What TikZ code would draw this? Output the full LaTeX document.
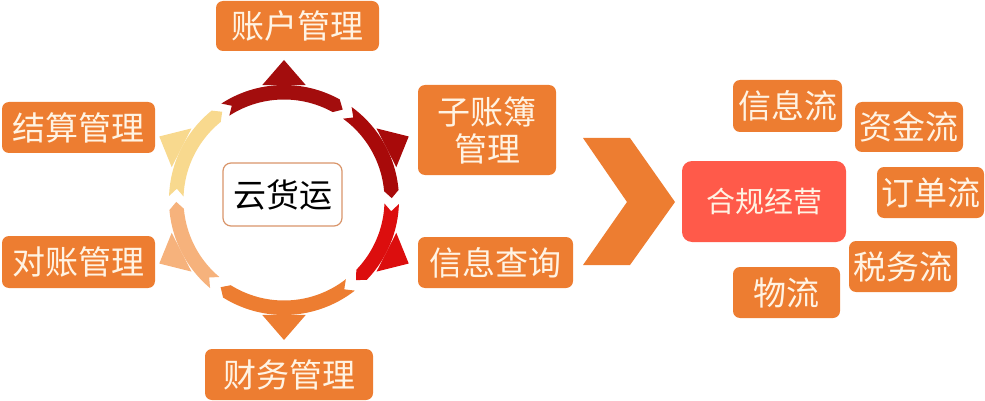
\documentclass[tikz,border=0pt]{standalone}
\usepackage{fontspec}
\newfontfamily\cjk{Noto Sans CJK SC}
\definecolor{boxorange}{HTML}{ED7D31}
\definecolor{boxtext}{HTML}{FFF3E3}
\definecolor{redbox}{HTML}{FF5A4A}
\definecolor{segA}{HTML}{A30D0D}
\definecolor{segB}{HTML}{A80A0A}
\definecolor{segC}{HTML}{DC0E0E}
\definecolor{segD}{HTML}{ED7D31}
\definecolor{segE}{HTML}{F6B27C}
\definecolor{segF}{HTML}{F8D98E}
\definecolor{hubline}{HTML}{D9956A}
\newcommand\ringseg[3]{%
  \pgfmathsetmacro\sa{#1}\pgfmathsetmacro\sb{#2+4}%
  \pgfmathsetmacro\sn{#1-4}%
  \fill[#3] plot[domain=\sa:\sb, samples=30] ({\cx+\ro*cos(\x)},{\cy-\ro*sin(\x)})
    -- ({\cx+\rmid*cos(#2)},{\cy-\rmid*sin(#2)})
    -- plot[domain=\sb:\sa, samples=30] ({\cx+\ri*cos(\x)},{\cy-\ri*sin(\x)})
    -- ({\cx+\rmid*cos(\sn)},{\cy-\rmid*sin(\sn)}) -- cycle;}
\newcommand\ringtri[2]{%
  \fill[#2] ({\cx+117*cos(#1+10.7)},{\cy-117*sin(#1+10.7)})
    -- ({\cx+140*cos(#1)},{\cy-140*sin(#1)})
    -- ({\cx+117*cos(#1-10.7)},{\cy-117*sin(#1-10.7)}) -- cycle;}
\begin{document}
\begin{tikzpicture}[x=1pt,y=-1pt,
  box/.style={fill=boxorange, rounded corners=7pt, inner sep=0pt, text=boxtext,
    font=\cjk\fontsize{33}{37}\selectfont, align=center},
  hub/.style={draw=hubline, line width=1.2pt, fill=white, rounded corners=8pt,
    inner sep=0pt, text=black, font=\cjk\fontsize{33}{37}\selectfont},
  goal/.style={fill=redbox, rounded corners=10pt, inner sep=0pt, text=boxtext,
    font=\cjk\fontsize{29}{34}\selectfont}]
\useasboundingbox (0,0) rectangle (985,401);
\def\cx{284}\def\cy{200}\def\ro{115}\def\ri{100.5}\def\rmid{107.75}
% ring segments (clockwise)
\ringseg{123}{57}{segA}
\ringseg{54}{1}{segB}
\ringseg{-2}{-48}{segC}
\ringseg{-52}{-126}{segD}
\ringseg{-130}{-179}{segE}
\ringseg{178}{125}{segF}
% outward triangles
\ringtri{90}{segA}
\ringtri{27}{segB}
\ringtri{-27}{segC}
\ringtri{-90}{segD}
\ringtri{-153}{segE}
\ringtri{153}{segF}
% hub
\node[hub, minimum width=119pt, minimum height=63pt] (hub) at (282.5,194.5) {云货运};
% surrounding boxes
\node[box, minimum width=163pt, minimum height=50pt] (zh) at (297.5,26) {账户管理};
\node[box, minimum width=153pt, minimum height=51pt] (js) at (78.5,127.5) {结算管理};
\node[box, minimum width=153pt, minimum height=52pt] (dz) at (78.5,262) {对账管理};
\node[box, minimum width=168pt, minimum height=51pt] (cw) at (289,374.5) {财务管理};
\node[box, minimum width=138pt, minimum height=90pt] (zz) at (487,130) {子账簿\\管理};
\node[box, minimum width=155pt, minimum height=51pt] (xx) at (495.5,262.5) {信息查询};
% chevron
\fill[boxorange] (583,138) -- (630,138) -- (675,202) -- (630,265) -- (583,265) -- (627,202) -- cycle;
% goal
\node[goal, minimum width=164pt, minimum height=81pt] (hg) at (764,201.5) {合规经营};
\node[box, minimum width=109pt, minimum height=52pt] (f1) at (787.5,106) {信息流};
\node[box, minimum width=108pt, minimum height=50pt] (f2) at (909,127) {资金流};
\node[box, minimum width=107pt, minimum height=51pt] (f3) at (930.5,192.5) {订单流};
\node[box, minimum width=108pt, minimum height=51pt] (f4) at (903,266.5) {税务流};
\node[box, minimum width=107pt, minimum height=51pt] (f5) at (786.5,292.5) {物流};
\end{tikzpicture}
\end{document}
